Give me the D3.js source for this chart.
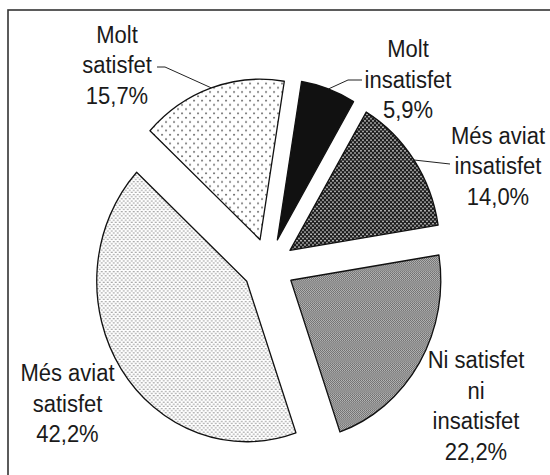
<!DOCTYPE html>
<html>
<head>
<meta charset="utf-8">
<script src="https://cdn.jsdelivr.net/npm/d3@7"></script>
<style>
  body { margin: 0; background: #fff; }
  svg { display: block; }
</style>
</head>
<body>
<div class="svg-container"></div>
<script>
// data
const categories = ["Molt insatisfet", "Més aviat insatisfet", "Ni satisfet ni insatisfet", "Més aviat satisfet", "Molt satisfet"];
const values = [5.9, 14.0, 22.2, 42.2, 15.7];
const labelLines = [["Molt", "insatisfet"], ["Més aviat", "insatisfet"], ["Ni satisfet", "ni", "insatisfet"], ["Més aviat", "satisfet"], ["Molt", "satisfet"]];

// layout
const width = 550, height = 475;
const cx = 268.5, cy = 266, R = 150, ky = 1.07, explode = 26;
const rot = 9.3 * Math.PI / 180;
const lineH = 30.5;
const fills = ["#111", "url(#darkdots)", "url(#checker)", "url(#densedots)", "url(#sparsedots)"];
// label blocks: centre x, first baseline, optional leader (start, elbow)
const labelPos = [
  {x: 408, y: 57, leader: [[362, 80], [348, 80]]},
  {x: 498, y: 143.5, leader: [[450, 164]]},
  {x: 476, y: 368, leader: null},
  {x: 67.5, y: 381, leader: null},
  {x: 117, y: 42.7, leader: [[157, 67], [165, 67]]}
];

const svg = d3.select("div.svg-container").append("svg")
  .attr("width", width).attr("height", height);

const defs = svg.append("defs");
function dots(id, size, bg, dot, r, pts) {
  const p = defs.append("pattern").attr("id", id).attr("patternUnits", "userSpaceOnUse")
    .attr("width", size).attr("height", size);
  p.append("rect").attr("width", size).attr("height", size).attr("fill", bg);
  pts.forEach(d => p.append("circle").attr("cx", d[0]).attr("cy", d[1]).attr("r", r).attr("fill", dot));
}
dots("sparsedots", 8, "#fff", "#444", 0.8, [[2, 2], [6, 6]]);
dots("densedots", 4, "#fff", "#555", 0.65, [[1, 1], [3, 3]]);
dots("darkdots", 4, "#1a1a1a", "#fff", 0.75, [[1, 1], [3, 3]]);
const ck = defs.append("pattern").attr("id", "checker").attr("patternUnits", "userSpaceOnUse")
  .attr("width", 2).attr("height", 2);
ck.append("rect").attr("width", 2).attr("height", 2).attr("fill", "#cfcfcf");
ck.append("rect").attr("width", 1).attr("height", 1).attr("fill", "#555");
ck.append("rect").attr("x", 1).attr("y", 1).attr("width", 1).attr("height", 1).attr("fill", "#555");

// frame
svg.append("rect").attr("x", 8).attr("y", 10).attr("width", 600).attr("height", 520)
  .attr("fill", "none").attr("stroke", "#333").attr("stroke-width", 1.6);

const pie = d3.pie().sort(null).startAngle(rot).endAngle(rot + 2 * Math.PI);
const arc = d3.arc().innerRadius(0).outerRadius(R);
const arcs = pie(values);
const mid = a => (a.startAngle + a.endAngle) / 2;

svg.append("g").selectAll("path").data(arcs).join("path")
  .attr("transform", a => {
    const m = mid(a);
    return `translate(${cx + explode * Math.sin(m)},${cy - explode * Math.cos(m) * ky}) scale(1,${ky})`;
  })
  .attr("d", arc)
  .attr("fill", (a, i) => fills[i])
  .attr("stroke", "#111")
  .attr("stroke-width", 1.3)
  .attr("stroke-linejoin", "round");

// leader lines
arcs.forEach((a, i) => {
  const lp = labelPos[i];
  if (!lp.leader) return;
  const m = mid(a);
  const end = [cx + (explode + R) * Math.sin(m), cy - (explode + R) * Math.cos(m) * ky];
  svg.append("path")
    .attr("d", d3.line()(lp.leader.concat([end])))
    .attr("fill", "none").attr("stroke", "#222").attr("stroke-width", 1);
});

// labels
const fmt = v => d3.format(".1f")(v).replace(".", ",") + "%";
arcs.forEach((a, i) => {
  const lp = labelPos[i];
  const lines = labelLines[i].concat([fmt(values[i])]);
  lines.forEach((t, j) => {
    svg.append("text")
      .attr("transform", `translate(${lp.x},${lp.y + j * lineH}) scale(1,${ky})`)
      .attr("text-anchor", "middle")
      .attr("font-family", "Liberation Sans, Arial, sans-serif")
      .attr("font-size", 22)
      .attr("fill", "#1a1a1a")
      .text(t);
  });
});
</script>
</body>
</html>
